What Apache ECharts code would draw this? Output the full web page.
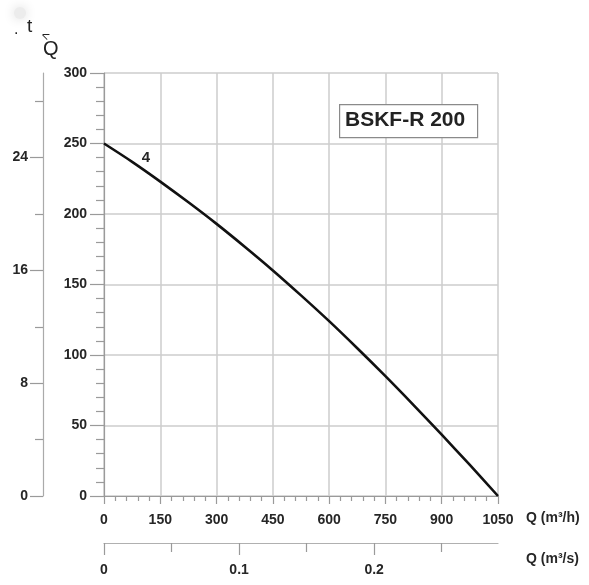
<!DOCTYPE html>
<html>
<head>
<meta charset="utf-8">
<script src="https://cdn.jsdelivr.net/npm/echarts@6/dist/echarts.min.js"></script>
<style>html,body{margin:0;padding:0;background:#fff}#c{width:589px;height:585px}</style>
</head>
<body>
<div id="c"></div>
<script>
// Data
var flowM3h = [0, 75, 150, 225, 300, 375, 450, 525, 600, 675, 750, 825, 900, 975, 1050];
var headM   = [250, 237, 223, 208.3, 193, 176.8, 160, 142.3, 124, 104.8, 85, 64.5, 43.5, 22, 0];
var xMajorM3s = [0, 0.1, 0.2];
var xMinorM3s = [0.05, 0.15, 0.25];
var leftMajor = [0, 8, 16, 24];
var leftMinor = [4, 12, 20, 28];
var curveName = '4';
var modelName = 'BSKF-R 200';
var nameM3h = 'Q (m³/h)';
var nameM3s = 'Q (m³/s)';

var font = 'Liberation Sans, Arial, sans-serif';
var axisGray = '#9a9a9a';
var gridGray = '#cdcdcd';
var txt = '#262626';
var lbl = { fontFamily: font, fontSize: 14, fontWeight: 'bold', color: txt };
function plain(v) { return String(v); }

var chart = echarts.init(document.getElementById('c'));
chart.setOption({
  backgroundColor: '#fff',
  animation: false,
  grid: { left: 104, right: 91, top: 73, bottom: 89 },
  xAxis: [{
    type: 'value', min: 0, max: 1050, interval: 150, position: 'bottom',
    axisLine: { show: true, onZero: false, lineStyle: { color: axisGray, width: 1.2 } },
    axisTick: { show: true, length: 8, lineStyle: { color: axisGray, width: 1.2 } },
    minorTick: { show: true, splitNumber: 5, length: 5, lineStyle: { color: axisGray, width: 1.2 } },
    axisLabel: Object.assign({ margin: 17, formatter: plain }, lbl),
    splitLine: { show: true, lineStyle: { color: gridGray, width: 1.5 } }
  }, {
    type: 'value', min: 0, max: 1050 / 3600, position: 'bottom', offset: 47,
    axisLine: { show: true, onZero: false, lineStyle: { color: '#b0b0b0', width: 1.2 } },
    axisTick: { show: true, length: 12, customValues: xMajorM3s, lineStyle: { color: axisGray, width: 1.2 } },
    axisLabel: Object.assign({ margin: 20, customValues: xMajorM3s, formatter: plain }, lbl),
    splitLine: { show: false }
  }, {
    type: 'value', min: 0, max: 1050 / 3600, position: 'bottom', offset: 47,
    axisLine: { show: false, onZero: false },
    axisTick: { show: true, length: 9, customValues: xMinorM3s, lineStyle: { color: axisGray, width: 1.2 } },
    axisLabel: { show: false },
    splitLine: { show: false }
  }],
  yAxis: [{
    type: 'value', min: 0, max: 300, interval: 50, position: 'left',
    axisLine: { show: true, onZero: false, lineStyle: { color: axisGray, width: 1.2 } },
    axisTick: { show: true, length: 14, lineStyle: { color: axisGray, width: 1.2 } },
    minorTick: { show: true, splitNumber: 5, length: 8, lineStyle: { color: axisGray, width: 1.2 } },
    axisLabel: Object.assign({ margin: 17 }, lbl),
    splitLine: { show: true, lineStyle: { color: gridGray, width: 1.5 } }
  }, {
    type: 'value', min: 0, max: 30, position: 'left', offset: 61,
    axisLine: { show: true, onZero: false, lineStyle: { color: '#aaaaaa', width: 1.2 } },
    axisTick: { show: true, length: 13, customValues: leftMajor, lineStyle: { color: axisGray, width: 1.2 } },
    axisLabel: Object.assign({ margin: 15, customValues: leftMajor }, lbl),
    splitLine: { show: false }
  }, {
    type: 'value', min: 0, max: 30, position: 'left', offset: 61,
    axisLine: { show: false, onZero: false },
    axisTick: { show: true, length: 8, customValues: leftMinor, lineStyle: { color: axisGray, width: 1.2 } },
    axisLabel: { show: false },
    splitLine: { show: false }
  }],
  series: [{
    type: 'line', xAxisIndex: 0, yAxisIndex: 0,
    data: flowM3h.map(function (q, i) { return [q, headM[i]]; }),
    smooth: 0.3, showSymbol: false, symbol: 'none',
    lineStyle: { color: '#111', width: 2.6, join: 'round' },
    markPoint: {
      symbol: 'circle', symbolSize: 0,
      data: [{ coord: [112, 240], label: { show: true, formatter: curveName, fontFamily: font, fontSize: 15, fontWeight: 'bold', color: txt } }]
    }
  }],
  graphic: [
    { type: 'circle', shape: { cx: 20, cy: 13, r: 6 }, style: { fill: '#ececec', shadowBlur: 12, shadowColor: '#d8d8d8' }, silent: true },
    { type: 'text', left: 14, top: 22, style: { text: '.', font: '16px ' + font, fill: '#222' } },
    { type: 'text', left: 27, top: 17, style: { text: 't', font: '19px ' + font, fill: '#222' } },
    { type: 'text', left: 39, top: 29, rotation: -0.4, style: { text: '<', font: '13px ' + font, fill: '#222' } },
    { type: 'text', left: 43, top: 39, style: { text: 'Q', font: '20px ' + font, fill: '#222' } },
    { type: 'text', left: 526, top: 511, style: { text: nameM3h, font: 'bold 14px ' + font, fill: txt } },
    { type: 'text', left: 526, top: 552, style: { text: nameM3s, font: 'bold 14px ' + font, fill: txt } },
    { type: 'rect', left: 339, top: 104, shape: { width: 138, height: 33 }, style: { fill: '#fff', stroke: '#8a8a8a', lineWidth: 1.2 }, z: 10 },
    { type: 'text', left: 345, top: 110, style: { text: modelName, font: 'bold 21px ' + font, fill: '#222' }, z: 11 }
  ]
});
</script>
</body>
</html>
